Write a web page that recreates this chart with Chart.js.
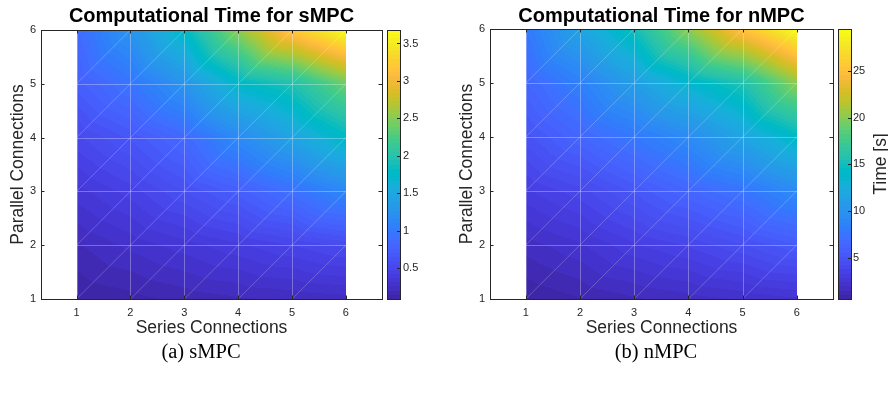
<!DOCTYPE html>
<html>
<head>
<meta charset="utf-8">
<script src="https://cdn.jsdelivr.net/npm/chart.js@4.4.0/dist/chart.umd.min.js"></script>
<style>
  body { margin: 0; background: #fff; width: 888px; height: 394px; position: relative; overflow: hidden; }
  .wrap { position: absolute; top: 0; }
  .cap { position: absolute; top: 340px; font-family: "Liberation Serif", serif; font-size: 20.5px; color: #000; transform: translateX(-50%); white-space: nowrap; }
</style>
</head>
<body>
<div class="wrap" style="left:0"><canvas id="c1" width="444" height="345"></canvas></div>
<div class="wrap" style="left:444px"><canvas id="c2" width="444" height="345"></canvas></div>
<div class="cap" style="left:201px">(a) sMPC</div>
<div class="cap" style="left:656px">(b) nMPC</div>
<script>
// grid of the surface
const seriesConnections = [1, 2, 3, 4, 5, 6];
const parallelConnections = [1, 2, 3, 4, 5, 6];

// computational time [s], one row per parallel count (1..6), columns = series count (1..6)
const smpcTime = [
  [0.086, 0.12, 0.16, 0.19, 0.21, 0.23],
  [0.19, 0.27, 0.34, 0.41, 0.48, 0.55],
  [0.34, 0.45, 0.59, 0.73, 0.91, 1.13],
  [0.52, 0.66, 0.84, 1.16, 1.45, 1.78],
  [0.73, 0.95, 1.27, 1.74, 1.95, 2.39],
  [0.86, 1.27, 1.78, 2.53, 3.21, 3.68]
];
const nmpcTime = [
  [0.57, 1.0, 1.4, 1.7, 2.0, 2.3],
  [1.7, 2.3, 3.2, 3.8, 4.6, 5.5],
  [3.2, 4.0, 5.2, 6.4, 7.5, 9.3],
  [4.9, 6.4, 7.8, 9.3, 11.6, 14.2],
  [6.4, 8.4, 11.0, 13.6, 15.6, 20.2],
  [7.8, 11.6, 15.0, 20.2, 25.2, 29.5]
];

// tick labels
const axisTicks = [1, 2, 3, 4, 5, 6];
const smpcBarTicks = [0.5, 1, 1.5, 2, 2.5, 3, 3.5];
const nmpcBarTicks = [5, 10, 15, 20, 25];

// parula(64)
const parula = [
[0.2422,0.1504,0.6603],[0.2504,0.1650,0.7076],[0.2578,0.1818,0.7511],[0.2647,0.1978,0.7952],
[0.2706,0.2147,0.8364],[0.2751,0.2342,0.8710],[0.2783,0.2559,0.8991],[0.2803,0.2782,0.9221],
[0.2813,0.3006,0.9414],[0.2810,0.3228,0.9579],[0.2795,0.3447,0.9717],[0.2760,0.3667,0.9829],
[0.2699,0.3892,0.9906],[0.2602,0.4123,0.9952],[0.2440,0.4358,0.9988],[0.2206,0.4603,0.9973],
[0.1963,0.4847,0.9892],[0.1834,0.5074,0.9798],[0.1786,0.5289,0.9682],[0.1764,0.5499,0.9520],
[0.1687,0.5703,0.9359],[0.1540,0.5902,0.9218],[0.1460,0.6091,0.9079],[0.1380,0.6276,0.8973],
[0.1248,0.6459,0.8883],[0.1113,0.6635,0.8763],[0.0952,0.6798,0.8598],[0.0689,0.6948,0.8394],
[0.0297,0.7082,0.8163],[0.0036,0.7203,0.7917],[0.0067,0.7312,0.7660],[0.0433,0.7411,0.7394],
[0.0964,0.7500,0.7120],[0.1408,0.7584,0.6842],[0.1717,0.7670,0.6554],[0.1938,0.7758,0.6251],
[0.2161,0.7843,0.5923],[0.2470,0.7918,0.5567],[0.2906,0.7973,0.5188],[0.3406,0.8008,0.4789],
[0.3909,0.8029,0.4354],[0.4456,0.8024,0.3909],[0.5044,0.7993,0.3480],[0.5616,0.7942,0.3045],
[0.6174,0.7876,0.2612],[0.6720,0.7793,0.2227],[0.7242,0.7698,0.1910],[0.7738,0.7598,0.1646],
[0.8203,0.7498,0.1535],[0.8634,0.7406,0.1596],[0.9035,0.7330,0.1774],[0.9393,0.7288,0.2100],
[0.9728,0.7298,0.2394],[0.9956,0.7434,0.2371],[0.9970,0.7659,0.2199],[0.9952,0.7893,0.2028],
[0.9892,0.8136,0.1885],[0.9786,0.8386,0.1766],[0.9676,0.8639,0.1643],[0.9610,0.8890,0.1537],
[0.9597,0.9135,0.1423],[0.9628,0.9373,0.1265],[0.9691,0.9606,0.1064],[0.9769,0.9839,0.0805]
];

const axisColor = '#262626';
const sans = '"Liberation Sans", Arial, sans-serif';

function colorFor(v, zmin, zmax) {
  let i = Math.floor((v - zmin) / (zmax - zmin) * parula.length);
  i = Math.max(0, Math.min(parula.length - 1, i));
  return parula[i];
}

function findCell(arr, v) {
  for (let k = 0; k < arr.length - 1; k++) {
    if (v <= arr[k + 1]) return k;
  }
  return arr.length - 2;
}

const surfacePlugin = {
  id: 'surface',
  beforeDatasetsDraw(chart, args, opts) {
    const { ctx, scales: { x, y } } = chart;
    const z = opts.z;
    const flat = z.flat();
    const zmin = Math.min(...flat), zmax = Math.max(...flat);
    const xs = seriesConnections, ys = parallelConnections;

    const px0 = Math.round(x.getPixelForValue(xs[0]));
    const px1 = Math.round(x.getPixelForValue(xs[xs.length - 1]));
    const py0 = Math.round(y.getPixelForValue(ys[ys.length - 1]));
    const py1 = Math.round(y.getPixelForValue(ys[0]));
    const w = px1 - px0, h = py1 - py0;
    const img = ctx.createImageData(w, h);
    for (let j = 0; j < h; j++) {
      const yv = y.getValueForPixel(py0 + j + 0.5);
      const cj = findCell(ys, yv);
      const v = (yv - ys[cj]) / (ys[cj + 1] - ys[cj]);
      for (let i = 0; i < w; i++) {
        const xv = x.getValueForPixel(px0 + i + 0.5);
        const ci = findCell(xs, xv);
        const u = (xv - xs[ci]) / (xs[ci + 1] - xs[ci]);
        const z00 = z[cj][ci], z10 = z[cj][ci + 1], z01 = z[cj + 1][ci], z11 = z[cj + 1][ci + 1];
        let val;
        if (v <= u) val = z00 + u * (z10 - z00) + v * (z11 - z10);
        else val = z00 + v * (z01 - z00) + u * (z11 - z01);
        const c = colorFor(val, zmin, zmax);
        const p = (j * w + i) * 4;
        img.data[p] = c[0] * 255;
        img.data[p + 1] = c[1] * 255;
        img.data[p + 2] = c[2] * 255;
        img.data[p + 3] = 255;
      }
    }
    ctx.putImageData(img, px0, py0);

    // mesh edges
    ctx.save();
    ctx.strokeStyle = 'rgba(255,255,255,0.3)';
    ctx.lineWidth = 1;
    ctx.beginPath();
    xs.forEach(xv => {
      const px = Math.round(x.getPixelForValue(xv)) + 0.5;
      ctx.moveTo(px, py0); ctx.lineTo(px, py1);
    });
    ys.forEach(yv => {
      const py = Math.round(y.getPixelForValue(yv)) + 0.5;
      ctx.moveTo(px0, py); ctx.lineTo(px1, py);
    });
    ctx.stroke();
    ctx.lineWidth = 0.8;
    ctx.strokeStyle = 'rgba(255,255,255,0.28)';
    ctx.beginPath();
    for (let cj = 0; cj < ys.length - 1; cj++) {
      for (let ci = 0; ci < xs.length - 1; ci++) {
        ctx.moveTo(x.getPixelForValue(xs[ci]), y.getPixelForValue(ys[cj]));
        ctx.lineTo(x.getPixelForValue(xs[ci + 1]), y.getPixelForValue(ys[cj + 1]));
      }
    }
    ctx.stroke();
    ctx.restore();
  },
  afterDraw(chart, args, opts) {
    const { ctx, chartArea: a, scales: { x, y, cb } } = chart;
    const flat = opts.z.flat();
    const zmin = Math.min(...flat), zmax = Math.max(...flat);

    // axes box with inward ticks
    ctx.save();
    ctx.strokeStyle = axisColor;
    ctx.lineWidth = 1;
    ctx.strokeRect(Math.round(a.left) + 0.5, Math.round(a.top) + 0.5,
      Math.round(a.right) - Math.round(a.left), Math.round(a.bottom) - Math.round(a.top));
    ctx.beginPath();
    x.ticks.forEach(t => {
      const px = Math.round(x.getPixelForValue(t.value)) + 0.5;
      ctx.moveTo(px, a.bottom); ctx.lineTo(px, a.bottom - 3.5);
      ctx.moveTo(px, a.top); ctx.lineTo(px, a.top + 3.5);
    });
    y.ticks.forEach(t => {
      const py = Math.round(y.getPixelForValue(t.value)) + 0.5;
      ctx.moveTo(a.left, py); ctx.lineTo(a.left + 3.5, py);
      ctx.moveTo(a.right, py); ctx.lineTo(a.right - 3.5, py);
    });
    ctx.stroke();

    // colorbar
    const bl = Math.round(cb.left + opts.barGap), bw = 13;
    const bt = Math.round(cb.top), bb = Math.round(cb.bottom);
    for (let py = bt; py < bb; py++) {
      const c = colorFor(cb.getValueForPixel(py + 0.5), zmin, zmax);
      ctx.fillStyle = `rgb(${c[0] * 255},${c[1] * 255},${c[2] * 255})`;
      ctx.fillRect(bl, py, bw, 1);
    }
    ctx.strokeRect(bl + 0.5, bt + 0.5, bw, bb - bt);
    ctx.beginPath();
    cb.ticks.forEach(t => {
      const py = Math.round(cb.getPixelForValue(t.value)) + 0.5;
      ctx.moveTo(bl + bw, py); ctx.lineTo(bl + bw - 3, py);
    });
    ctx.stroke();

    if (opts.barTitle) {
      ctx.fillStyle = axisColor;
      ctx.font = '17.5px ' + sans;
      ctx.textAlign = 'center';
      ctx.textBaseline = 'middle';
      ctx.translate(opts.barTitleX, (a.top + a.bottom) / 2);
      ctx.rotate(-Math.PI / 2);
      ctx.fillText(opts.barTitle, 0, 0);
    }
    ctx.restore();
  }
};

function makeChart(id, cfg) {
  const flat = cfg.z.flat();
  const points = [];
  parallelConnections.forEach(p => seriesConnections.forEach(s => points.push({ x: s, y: p })));
  const tickFont = { family: sans, size: 11 };
  return new Chart(document.getElementById(id), {
    type: 'scatter',
    data: { datasets: [{ data: points, pointRadius: 0, pointHoverRadius: 0 }] },
    plugins: [surfacePlugin],
    options: {
      responsive: false,
      animation: false,
      devicePixelRatio: 1,
      layout: { padding: 0 },
      plugins: {
        legend: { display: false },
        tooltip: { enabled: false },
        title: {
          display: true,
          text: cfg.title,
          color: '#000',
          fullSize: false,
          font: { family: sans, size: 20, weight: 'bold' },
          padding: { top: 4, bottom: cfg.top - 28 }
        },
        surface: { z: cfg.z, barGap: cfg.barGap, barTitle: cfg.barTitle, barTitleX: cfg.barTitleX }
      },
      scales: {
        x: {
          type: 'linear', min: cfg.xmin, max: cfg.xmax,
          grid: { display: false, drawTicks: false }, border: { display: false },
          afterBuildTicks: s => { s.ticks = axisTicks.map(v => ({ value: v })); },
          ticks: { color: axisColor, font: tickFont, padding: 7, maxRotation: 0, callback: v => String(v) },
          title: { display: true, text: 'Series Connections', color: axisColor,
            font: { family: sans, size: 17.5 }, padding: { top: 0, bottom: 6 } },
          afterFit: s => { s.height = 345 - 299; }
        },
        y: {
          type: 'linear', min: 1, max: 6,
          grid: { display: false, drawTicks: false }, border: { display: false },
          afterBuildTicks: s => { s.ticks = axisTicks.map(v => ({ value: v })); },
          ticks: { color: axisColor, font: tickFont, padding: 5, callback: v => String(v) },
          title: { display: true, text: 'Parallel Connections', color: axisColor,
            font: { family: sans, size: 17.5 }, padding: { top: cfg.yTitlePad, bottom: 0 } },
          afterFit: s => { s.width = cfg.left; }
        },
        cb: {
          type: 'linear', position: 'right', min: Math.min(...flat), max: Math.max(...flat),
          grid: { display: false, drawTicks: false }, border: { display: false },
          afterBuildTicks: s => { s.ticks = cfg.barTicks.map(v => ({ value: v })); },
          ticks: { color: axisColor, font: tickFont, padding: cfg.barLabelPad, callback: v => String(v) },
          afterFit: s => { s.width = 444 - cfg.right; }
        }
      }
    }
  });
}

makeChart('c1', {
  title: 'Computational Time for sMPC', z: smpcTime, barTicks: smpcBarTicks,
  top: 30, left: 41, right: 382, xmin: 0.34, xmax: 6.67,
  yTitlePad: 8, barGap: 5, barLabelPad: 21
});
makeChart('c2', {
  title: 'Computational Time for nMPC', z: nmpcTime, barTicks: nmpcBarTicks,
  top: 29, left: 46, right: 389, xmin: 0.34, xmax: 6.67,
  yTitlePad: 13, barGap: 5, barLabelPad: 20,
  barTitle: 'Time [s]', barTitleX: 437
});
</script>
</body>
</html>
